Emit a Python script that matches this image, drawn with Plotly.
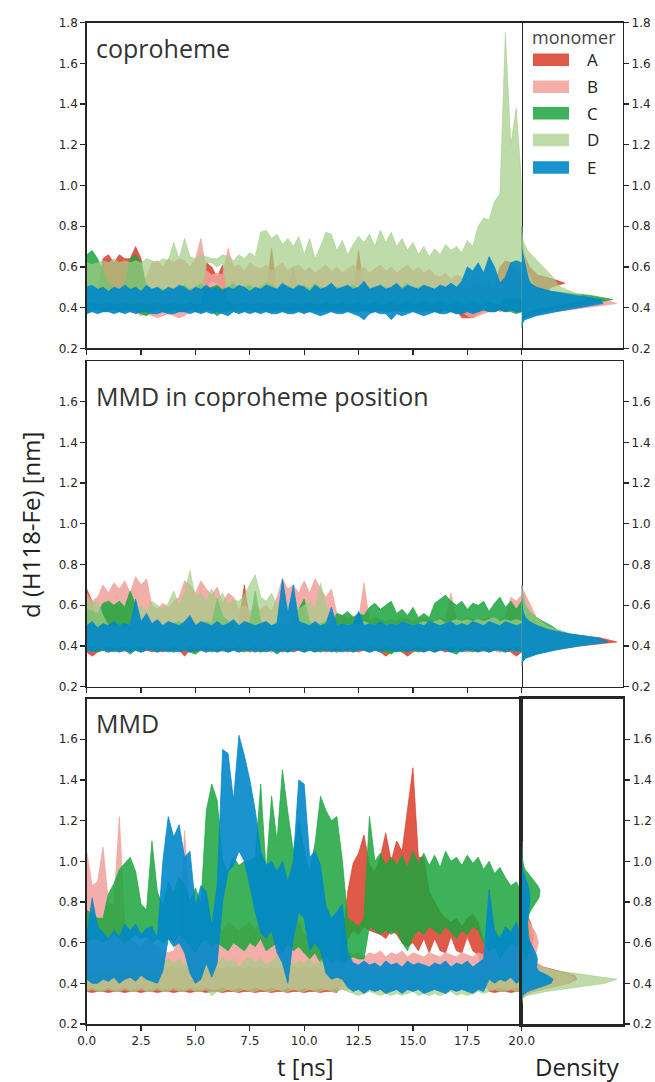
import plotly.graph_objects as go

# ---------------- data ----------------
T = [i * 0.25 for i in range(81)]          # time samples [ns]
MONOMERS = ["A", "B", "C", "D", "E"]
PANEL_TITLES = ["coproheme", "MMD in coproheme position", "MMD"]
X_TICKS = [0, 2.5, 5, 7.5, 10, 12.5, 15, 17.5, 20]
Y_TICKS_TOP = [0.2, 0.4, 0.6, 0.8, 1.0, 1.2, 1.4, 1.6, 1.8]
Y_TICKS = [0.2, 0.4, 0.6, 0.8, 1.0, 1.2, 1.4, 1.6]

# ---- panel 1: coproheme (upper / lower envelope of each trace) ----
P1_A_hi = [0.47,0.47,0.47,0.64,0.66,0.62,0.66,0.64, 0.64,0.70,0.64,0.47,0.47,0.47,0.47,0.47,
           0.47,0.47,0.47,0.47,0.47,0.47,0.62,0.60, 0.55,0.61,0.47,0.47,0.47,0.47,0.47,0.47,
           0.47,0.47,0.69,0.47,0.47,0.47,0.60,0.47, 0.47,0.47,0.47,0.47,0.47,0.47,0.47,0.47,
           0.47,0.47,0.68,0.47,0.47,0.47,0.47,0.47, 0.47,0.47,0.47,0.47,0.47,0.47,0.47,0.47,
           0.47,0.47,0.47,0.47,0.47,0.47,0.47,0.47, 0.47,0.47,0.47,0.50,0.60,0.63,0.62,0.58, 0.56]
P1_A_lo = [0.39,0.39,0.38,0.39,0.39,0.38,0.39,0.39, 0.38,0.39,0.39,0.38,0.39,0.39,0.38,0.39,
           0.39,0.38,0.39,0.39,0.38,0.39,0.50,0.53, 0.52,0.50,0.39,0.38,0.39,0.39,0.38,0.39,
           0.39,0.38,0.39,0.39,0.38,0.39,0.39,0.38, 0.39,0.39,0.38,0.39,0.39,0.38,0.39,0.39,
           0.38,0.39,0.39,0.38,0.39,0.39,0.38,0.39, 0.39,0.38,0.39,0.39,0.38,0.39,0.39,0.38,
           0.39,0.38,0.39,0.38,0.39,0.35,0.35,0.35, 0.37,0.38,0.39,0.38,0.39,0.38,0.39,0.38, 0.39]
P1_B_hi = [0.47,0.48,0.47,0.48,0.47,0.48,0.47,0.48, 0.48,0.47,0.50,0.55,0.62,0.63,0.60,0.64,
           0.62,0.64,0.63,0.60,0.64,0.74,0.58,0.56, 0.57,0.56,0.69,0.60,0.61,0.58,0.62,0.60,
           0.59,0.61,0.58,0.60,0.62,0.58,0.60,0.61, 0.58,0.60,0.57,0.59,0.61,0.58,0.60,0.57,
           0.59,0.61,0.58,0.60,0.57,0.59,0.61,0.58, 0.60,0.57,0.59,0.61,0.58,0.60,0.57,0.59,
           0.56,0.55,0.57,0.54,0.56,0.55,0.53,0.55, 0.54,0.52,0.53,0.51,0.52,0.50,0.52,0.51, 0.50]
P1_B_lo = [0.38,0.39,0.38,0.38,0.39,0.38,0.38,0.39, 0.38,0.38,0.36,0.37,0.36,0.35,0.36,0.37,
           0.36,0.35,0.36,0.38,0.39,0.38,0.38,0.39, 0.38,0.38,0.39,0.38,0.38,0.39,0.38,0.38,
           0.39,0.38,0.38,0.39,0.38,0.38,0.39,0.38, 0.38,0.39,0.38,0.38,0.39,0.38,0.38,0.39,
           0.38,0.38,0.39,0.38,0.38,0.39,0.38,0.38, 0.39,0.38,0.38,0.39,0.38,0.38,0.39,0.38,
           0.38,0.39,0.38,0.38,0.39,0.38,0.36,0.35, 0.36,0.37,0.38,0.39,0.38,0.38,0.39,0.38, 0.38]
P1_C_hi = [0.66,0.68,0.64,0.58,0.52,0.50,0.49,0.50, 0.64,0.66,0.62,0.50,0.49,0.50,0.49,0.48,
           0.49,0.50,0.51,0.49,0.50,0.52,0.49,0.50, 0.51,0.49,0.50,0.52,0.49,0.50,0.51,0.49,
           0.50,0.52,0.51,0.49,0.50,0.51,0.49,0.50, 0.51,0.49,0.52,0.50,0.49,0.51,0.50,0.49,
           0.50,0.51,0.49,0.52,0.50,0.49,0.51,0.50, 0.49,0.51,0.50,0.52,0.49,0.50,0.51,0.50,
           0.49,0.51,0.50,0.52,0.50,0.51,0.49,0.50, 0.52,0.50,0.51,0.49,0.50,0.52,0.50,0.51, 0.50]
P1_C_lo = [0.38,0.38,0.39,0.38,0.38,0.39,0.38,0.38, 0.39,0.38,0.37,0.36,0.38,0.39,0.38,0.38,
           0.39,0.38,0.38,0.39,0.38,0.38,0.39,0.38, 0.36,0.38,0.38,0.39,0.38,0.38,0.39,0.38,
           0.38,0.39,0.38,0.38,0.39,0.38,0.38,0.39, 0.38,0.38,0.39,0.38,0.38,0.39,0.38,0.38,
           0.39,0.38,0.38,0.39,0.38,0.38,0.39,0.38, 0.38,0.39,0.38,0.38,0.39,0.38,0.38,0.39,
           0.38,0.38,0.39,0.38,0.37,0.38,0.39,0.38, 0.38,0.39,0.38,0.38,0.39,0.38,0.38,0.37, 0.38]
P1_D_hi = [0.62,0.61,0.62,0.63,0.62,0.64,0.62,0.63, 0.62,0.63,0.62,0.64,0.63,0.62,0.64,0.63,
           0.72,0.64,0.74,0.65,0.64,0.66,0.65,0.64, 0.64,0.66,0.65,0.63,0.66,0.64,0.67,0.65,
           0.77,0.78,0.74,0.76,0.71,0.74,0.70,0.75, 0.66,0.74,0.64,0.70,0.77,0.76,0.68,0.73,
           0.66,0.71,0.75,0.72,0.76,0.70,0.78,0.72, 0.77,0.70,0.74,0.68,0.72,0.66,0.70,0.65,
           0.69,0.66,0.71,0.68,0.70,0.67,0.73,0.70, 0.80,0.84,0.83,0.92,0.96,1.75,1.20,1.38, 1.00]
P1_D_lo = [0.42,0.43,0.42,0.42,0.43,0.42,0.42,0.43, 0.42,0.42,0.43,0.42,0.42,0.43,0.42,0.42,
           0.43,0.42,0.42,0.43,0.42,0.42,0.62,0.62, 0.60,0.62,0.43,0.42,0.42,0.43,0.42,0.42,
           0.43,0.42,0.42,0.43,0.42,0.42,0.43,0.42, 0.42,0.43,0.42,0.42,0.43,0.42,0.42,0.43,
           0.42,0.42,0.43,0.42,0.42,0.43,0.42,0.42, 0.43,0.42,0.42,0.43,0.42,0.42,0.43,0.42,
           0.42,0.43,0.42,0.42,0.43,0.42,0.42,0.43, 0.42,0.42,0.43,0.42,0.42,0.45,0.44,0.45, 0.44]
P1_E_hi = [0.50,0.51,0.49,0.50,0.48,0.50,0.49,0.51, 0.49,0.50,0.48,0.51,0.49,0.50,0.48,0.50,
           0.49,0.51,0.50,0.48,0.50,0.49,0.51,0.49, 0.50,0.48,0.50,0.49,0.51,0.50,0.48,0.50,
           0.49,0.51,0.50,0.49,0.52,0.50,0.49,0.51, 0.50,0.48,0.51,0.49,0.50,0.52,0.49,0.50,
           0.51,0.49,0.50,0.53,0.49,0.50,0.51,0.49, 0.50,0.52,0.49,0.51,0.50,0.49,0.51,0.50,
           0.49,0.51,0.50,0.52,0.50,0.53,0.60,0.58, 0.62,0.57,0.65,0.60,0.52,0.55,0.62,0.63, 0.62]
P1_E_lo = [0.37,0.38,0.37,0.38,0.38,0.37,0.38,0.37, 0.38,0.37,0.38,0.38,0.37,0.37,0.38,0.37,
           0.37,0.38,0.38,0.37,0.38,0.37,0.38,0.37, 0.38,0.37,0.36,0.38,0.37,0.38,0.37,0.38,
           0.37,0.38,0.37,0.37,0.38,0.37,0.37,0.38, 0.37,0.38,0.37,0.36,0.37,0.38,0.37,0.37,
           0.38,0.37,0.36,0.34,0.37,0.38,0.37,0.37, 0.34,0.37,0.36,0.37,0.38,0.37,0.36,0.37,
           0.38,0.37,0.37,0.38,0.37,0.37,0.38,0.37, 0.38,0.39,0.38,0.38,0.39,0.38,0.39,0.38, 0.38]

# ---- panel 2: MMD in coproheme position ----
P2_A_hi = [0.68,0.62,0.48,0.47,0.48,0.47,0.48,0.47, 0.48,0.47,0.48,0.47,0.48,0.47,0.48,0.47,
           0.48,0.47,0.48,0.47,0.48,0.47,0.48,0.47, 0.48,0.47,0.48,0.47,0.52,0.70,0.52,0.60,
           0.48,0.47,0.48,0.47,0.48,0.47,0.48,0.47, 0.48,0.47,0.48,0.47,0.48,0.47,0.48,0.47,
           0.48,0.47,0.48,0.47,0.48,0.47,0.48,0.47, 0.48,0.47,0.48,0.47,0.48,0.47,0.48,0.47,
           0.48,0.47,0.48,0.47,0.48,0.47,0.48,0.47, 0.48,0.47,0.48,0.47,0.48,0.47,0.48,0.47, 0.48]
P2_A_lo = [0.37,0.35,0.37,0.38,0.37,0.38,0.37,0.38, 0.37,0.38,0.37,0.38,0.37,0.38,0.37,0.38,
           0.37,0.38,0.35,0.38,0.37,0.38,0.37,0.38, 0.37,0.38,0.37,0.38,0.37,0.38,0.37,0.38,
           0.37,0.38,0.37,0.38,0.37,0.38,0.37,0.38, 0.37,0.38,0.37,0.38,0.37,0.38,0.37,0.38,
           0.37,0.38,0.37,0.38,0.37,0.38,0.37,0.35, 0.37,0.38,0.37,0.35,0.37,0.38,0.37,0.38,
           0.37,0.38,0.37,0.38,0.37,0.38,0.37,0.38, 0.37,0.38,0.37,0.38,0.37,0.38,0.37,0.35, 0.37]
P2_B_hi = [0.66,0.62,0.64,0.70,0.66,0.71,0.68,0.72, 0.66,0.74,0.70,0.73,0.60,0.58,0.61,0.59,
           0.62,0.64,0.72,0.70,0.66,0.72,0.68,0.65, 0.69,0.61,0.66,0.64,0.58,0.60,0.57,0.59,
           0.58,0.60,0.57,0.64,0.73,0.68,0.70,0.66, 0.72,0.66,0.73,0.68,0.64,0.68,0.56,0.55,
           0.54,0.55,0.53,0.71,0.52,0.54,0.53,0.52, 0.53,0.52,0.54,0.53,0.52,0.53,0.54,0.53,
           0.52,0.54,0.53,0.66,0.53,0.52,0.54,0.53, 0.52,0.53,0.54,0.52,0.53,0.54,0.64,0.62, 0.65]
P2_B_lo = [0.38,0.37,0.38,0.38,0.37,0.38,0.38,0.37, 0.38,0.38,0.37,0.38,0.38,0.37,0.38,0.38,
           0.37,0.38,0.38,0.37,0.38,0.38,0.37,0.38, 0.38,0.37,0.38,0.38,0.37,0.38,0.38,0.37,
           0.38,0.38,0.37,0.38,0.38,0.37,0.38,0.38, 0.37,0.38,0.38,0.37,0.38,0.38,0.37,0.38,
           0.38,0.37,0.38,0.38,0.37,0.38,0.38,0.37, 0.38,0.38,0.37,0.38,0.38,0.37,0.38,0.38,
           0.37,0.38,0.38,0.37,0.38,0.38,0.37,0.38, 0.38,0.37,0.38,0.38,0.37,0.38,0.38,0.37, 0.38]
P2_C_hi = [0.58,0.57,0.56,0.61,0.62,0.60,0.62,0.59, 0.67,0.60,0.52,0.51,0.50,0.51,0.50,0.52,
           0.51,0.52,0.50,0.52,0.51,0.50,0.52,0.51, 0.63,0.55,0.52,0.51,0.50,0.52,0.51,0.67,
           0.52,0.51,0.50,0.52,0.51,0.50,0.52,0.58, 0.63,0.52,0.50,0.51,0.52,0.50,0.56,0.55,
           0.57,0.54,0.56,0.55,0.59,0.61,0.58,0.60, 0.62,0.56,0.58,0.55,0.59,0.54,0.56,0.54,
           0.61,0.63,0.65,0.62,0.60,0.62,0.58,0.61, 0.60,0.62,0.57,0.61,0.64,0.59,0.62,0.58, 0.62]
P2_C_lo = [0.38,0.38,0.37,0.38,0.38,0.37,0.38,0.38, 0.36,0.38,0.37,0.38,0.38,0.37,0.38,0.38,
           0.37,0.38,0.38,0.37,0.36,0.38,0.38,0.37, 0.38,0.38,0.37,0.38,0.38,0.37,0.38,0.38,
           0.37,0.38,0.38,0.36,0.38,0.37,0.38,0.38, 0.37,0.38,0.38,0.37,0.38,0.38,0.37,0.38,
           0.38,0.37,0.38,0.38,0.37,0.38,0.38,0.37, 0.36,0.38,0.37,0.38,0.38,0.37,0.38,0.38,
           0.37,0.38,0.38,0.37,0.36,0.38,0.38,0.37, 0.38,0.38,0.37,0.38,0.38,0.37,0.38,0.38, 0.37]
P2_D_hi = [0.64,0.61,0.62,0.55,0.50,0.49,0.50,0.49, 0.50,0.58,0.60,0.57,0.62,0.60,0.58,0.61,
           0.67,0.60,0.66,0.77,0.64,0.66,0.62,0.68, 0.62,0.66,0.60,0.63,0.62,0.65,0.70,0.75,
           0.64,0.62,0.66,0.60,0.63,0.60,0.62,0.58, 0.60,0.62,0.58,0.71,0.60,0.52,0.50,0.51,
           0.50,0.51,0.50,0.52,0.51,0.50,0.51,0.50, 0.51,0.50,0.52,0.51,0.50,0.51,0.52,0.51,
           0.52,0.53,0.51,0.52,0.53,0.52,0.53,0.52, 0.53,0.52,0.53,0.54,0.52,0.53,0.52,0.53, 0.52]
P2_D_lo = [0.39,0.40,0.39,0.39,0.40,0.39,0.39,0.40, 0.39,0.39,0.40,0.39,0.39,0.40,0.39,0.39,
           0.40,0.39,0.39,0.40,0.39,0.39,0.40,0.39, 0.39,0.40,0.39,0.39,0.40,0.39,0.39,0.40,
           0.39,0.39,0.40,0.39,0.39,0.40,0.39,0.39, 0.40,0.39,0.39,0.40,0.39,0.39,0.40,0.39,
           0.39,0.40,0.39,0.39,0.40,0.39,0.39,0.40, 0.39,0.39,0.40,0.39,0.39,0.40,0.39,0.39,
           0.40,0.39,0.39,0.40,0.39,0.39,0.40,0.39, 0.39,0.40,0.39,0.39,0.40,0.39,0.39,0.40, 0.39]
P2_E_hi = [0.50,0.52,0.49,0.51,0.50,0.52,0.50,0.51, 0.50,0.63,0.52,0.56,0.51,0.53,0.50,0.52,
           0.51,0.50,0.52,0.55,0.50,0.52,0.51,0.50, 0.52,0.50,0.51,0.53,0.50,0.52,0.51,0.50,
           0.51,0.52,0.50,0.51,0.73,0.56,0.70,0.52, 0.51,0.50,0.52,0.50,0.51,0.59,0.50,0.51,
           0.50,0.51,0.57,0.50,0.51,0.50,0.52,0.50, 0.51,0.50,0.52,0.51,0.50,0.51,0.50,0.52,
           0.51,0.50,0.51,0.52,0.50,0.51,0.50,0.52, 0.51,0.50,0.52,0.51,0.50,0.52,0.51,0.50, 0.51]
P2_E_lo = [0.38,0.37,0.38,0.38,0.37,0.38,0.37,0.38, 0.37,0.38,0.37,0.38,0.38,0.37,0.38,0.37,
           0.38,0.37,0.38,0.37,0.38,0.38,0.37,0.38, 0.37,0.38,0.37,0.38,0.37,0.38,0.38,0.37,
           0.38,0.37,0.38,0.37,0.38,0.37,0.38,0.38, 0.37,0.38,0.37,0.38,0.38,0.37,0.38,0.37,
           0.38,0.37,0.38,0.38,0.37,0.38,0.37,0.38, 0.38,0.37,0.38,0.37,0.38,0.38,0.37,0.38,
           0.37,0.38,0.38,0.37,0.38,0.37,0.38,0.38, 0.37,0.38,0.37,0.38,0.38,0.37,0.38,0.37, 0.38]

# ---- panel 3: MMD ----
P3_A_hi = [0.44,0.45,0.44,0.45,0.44,0.45,0.44,0.45, 0.45,0.44,0.45,0.44,0.45,0.46,0.47,0.48,
           0.48,0.47,0.48,0.47,0.48,0.47,0.48,0.47, 0.48,0.47,0.48,0.47,0.48,0.47,0.48,0.47,
           0.48,0.47,0.48,0.47,0.48,0.47,0.48,0.47, 0.48,0.47,0.48,0.47,0.48,0.47,0.48,0.60,
           0.85,0.99,1.04,1.13,0.98,0.95,1.02,1.14, 1.00,1.10,1.05,1.27,1.46,1.02,1.02,0.85,
           0.80,0.75,0.72,0.70,0.72,0.68,0.72,0.74, 0.70,0.60,0.45,0.44,0.45,0.44,0.45,0.44, 0.45]
P3_A_lo = [0.36,0.355,0.36,0.36,0.355,0.36,0.36,0.355, 0.36,0.36,0.355,0.36,0.36,0.355,0.36,0.36,
           0.355,0.36,0.36,0.355,0.36,0.36,0.355,0.36, 0.36,0.355,0.36,0.36,0.355,0.36,0.36,0.355,
           0.36,0.36,0.355,0.36,0.36,0.355,0.36,0.36, 0.355,0.36,0.36,0.355,0.36,0.36,0.355,0.40,
           0.62,0.66,0.64,0.68,0.66,0.65,0.64,0.62, 0.66,0.64,0.60,0.58,0.60,0.56,0.62,0.55,
           0.62,0.56,0.55,0.63,0.56,0.55,0.63,0.56, 0.54,0.45,0.36,0.355,0.36,0.36,0.355,0.36, 0.36]
P3_B_hi = [1.05,0.88,0.90,1.07,0.80,0.78,1.22,0.70, 0.62,0.60,0.58,0.62,0.60,0.58,0.56,0.55,
           0.56,0.62,1.15,0.72,0.65,0.70,0.68,0.65, 0.68,0.66,0.70,0.68,0.66,0.68,0.70,0.66,
           0.72,0.68,0.74,0.70,0.68,0.72,0.66,0.70, 0.64,0.62,0.60,0.62,0.60,0.58,0.60,0.56,
           0.56,0.54,0.55,0.53,0.55,0.54,0.56,0.53, 0.55,0.54,0.56,0.53,0.55,0.54,0.53,0.55,
           0.54,0.53,0.55,0.54,0.53,0.55,0.54,0.53, 0.55,0.54,0.62,0.60,0.64,0.60,0.62,0.58, 0.60]
P3_B_lo = [0.37,0.38,0.37,0.37,0.38,0.37,0.37,0.38, 0.37,0.37,0.38,0.37,0.37,0.38,0.37,0.37,
           0.38,0.37,0.37,0.38,0.37,0.37,0.38,0.37, 0.37,0.38,0.37,0.37,0.38,0.37,0.37,0.38,
           0.37,0.37,0.38,0.37,0.37,0.38,0.37,0.37, 0.38,0.37,0.37,0.38,0.37,0.37,0.38,0.37,
           0.37,0.38,0.37,0.37,0.38,0.37,0.37,0.38, 0.37,0.37,0.38,0.37,0.37,0.38,0.37,0.37,
           0.38,0.37,0.37,0.38,0.37,0.37,0.38,0.37, 0.37,0.38,0.37,0.37,0.38,0.37,0.37,0.38, 0.37]
P3_C_hi = [0.76,0.74,0.72,0.72,0.84,0.89,0.96,0.99, 1.02,0.95,0.79,0.76,1.10,0.85,0.78,0.90,
           0.85,0.92,0.88,0.80,0.87,0.79,1.25,1.38, 1.30,1.00,0.95,1.02,0.98,1.00,1.00,1.02,
           1.38,0.95,1.32,1.10,1.45,1.24,1.05,1.20, 1.05,0.95,1.09,1.32,1.25,1.20,1.22,1.01,
           0.72,0.70,0.68,0.72,1.22,1.00,1.04,0.98, 1.02,0.98,1.03,0.97,1.05,0.99,1.04,0.98,
           1.03,0.97,1.05,1.00,1.02,0.98,1.03,0.99, 1.02,0.96,1.00,0.94,0.97,0.92,0.88,0.90, 0.85]
P3_C_lo = [0.60,0.62,0.62,0.60,0.62,0.64,0.62,0.60, 0.62,0.64,0.62,0.63,0.60,0.62,0.60,0.62,
           0.60,0.64,0.62,0.58,0.55,0.60,0.62,0.58, 0.60,0.58,0.56,0.60,0.58,0.56,0.60,0.58,
           0.62,0.56,0.58,0.60,0.55,0.60,0.56,0.58, 0.55,0.52,0.55,0.50,0.52,0.50,0.52,0.50,
           0.52,0.53,0.52,0.52,0.68,0.66,0.64,0.66, 0.64,0.66,0.60,0.56,0.63,0.66,0.64,0.68,
           0.66,0.64,0.68,0.65,0.62,0.66,0.64,0.68, 0.66,0.60,0.56,0.58,0.52,0.56,0.60,0.58, 0.60]
P3_D_hi = [0.42,0.43,0.42,0.44,0.43,0.42,0.44,0.43, 0.42,0.44,0.43,0.42,0.44,0.43,0.50,0.52,
           0.50,0.52,0.49,0.53,0.51,0.48,0.52,0.50, 0.49,0.53,0.50,0.52,0.48,0.51,0.53,0.50,
           0.52,0.49,0.51,0.53,0.50,0.52,0.49,0.51, 0.50,0.52,0.49,0.51,0.53,0.50,0.52,0.51,
           0.47,0.46,0.47,0.46,0.47,0.46,0.47,0.46, 0.47,0.46,0.47,0.46,0.47,0.46,0.47,0.46,
           0.47,0.46,0.47,0.46,0.47,0.46,0.47,0.46, 0.47,0.46,0.45,0.47,0.46,0.48,0.46,0.47, 0.46]
P3_D_lo = [0.36,0.37,0.36,0.36,0.37,0.36,0.36,0.37, 0.36,0.36,0.37,0.36,0.36,0.37,0.36,0.36,
           0.37,0.36,0.36,0.37,0.36,0.36,0.37,0.34, 0.36,0.36,0.37,0.36,0.36,0.37,0.36,0.36,
           0.37,0.36,0.36,0.37,0.36,0.36,0.37,0.36, 0.36,0.37,0.36,0.36,0.37,0.36,0.36,0.37,
           0.36,0.35,0.34,0.35,0.36,0.35,0.34,0.35, 0.34,0.35,0.34,0.35,0.36,0.34,0.35,0.34,
           0.35,0.34,0.35,0.36,0.34,0.35,0.34,0.35, 0.36,0.35,0.36,0.37,0.36,0.36,0.37,0.36, 0.36]
P3_E_hi = [0.63,0.82,0.68,0.65,0.62,0.66,0.63,0.69, 0.66,0.69,0.64,0.67,0.68,0.62,1.00,1.22,
           1.12,1.18,1.02,1.05,0.78,0.88,0.85,0.68, 0.88,1.55,1.53,1.30,1.62,1.52,1.40,1.25,
           1.05,0.98,1.00,0.95,1.00,0.90,1.00,1.40, 1.38,1.02,1.05,0.98,0.78,0.72,0.75,0.79,
           0.55,0.50,0.49,0.51,0.49,0.50,0.48,0.51, 0.49,0.50,0.48,0.51,0.49,0.50,0.49,0.48,
           0.50,0.49,0.51,0.48,0.50,0.49,0.51,0.48, 0.50,0.52,0.86,0.66,0.62,0.68,0.65,0.70, 0.62]
P3_E_lo = [0.42,0.40,0.40,0.42,0.41,0.43,0.40,0.42, 0.43,0.41,0.44,0.42,0.41,0.40,0.46,0.62,
           0.58,0.60,0.55,0.45,0.40,0.42,0.50,0.43, 0.50,0.80,0.95,0.98,1.05,1.00,0.88,0.75,
           0.65,0.62,0.66,0.55,0.50,0.40,0.62,0.75, 0.72,0.56,0.60,0.56,0.45,0.42,0.43,0.42,
           0.38,0.36,0.37,0.35,0.37,0.36,0.37,0.35, 0.36,0.37,0.35,0.37,0.36,0.37,0.35,0.36,
           0.37,0.36,0.35,0.37,0.36,0.37,0.36,0.35, 0.37,0.36,0.42,0.40,0.42,0.41,0.43,0.40, 0.42]

# ---- marginal densities (distance grid, density per monomer) ----
Y1 = [round(0.30 + 0.02 * i, 2) for i in range(26)]
P1_DENS_A = [0,0,0.1,0.6,2.5,5.5,7.8,7.0,4.0,2.6,3.0,4.4,3.2,1.6,1.2,0.8,0.6,0.4,0.25,0.15,0.1,0.05,0,0,0,0]
P1_DENS_B = [0,0,0.2,1.0,3.5,6.8,9.7,8.5,5.0,2.5,1.5,1.2,1.0,0.8,0.6,0.5,0.4,0.3,0.2,0.15,0.1,0.05,0,0,0,0]
P1_DENS_C = [0,0,0.1,0.6,2.0,4.5,6.8,9.3,7.0,3.0,1.5,0.8,0.5,0.4,0.3,0.25,0.2,0.15,0.1,0.05,0,0,0,0,0,0]
P1_DENS_D = [0,0,0,0.1,0.6,2.0,4.5,6.5,6.0,5.0,4.0,3.6,3.3,3.0,2.6,2.2,1.8,1.3,0.9,0.6,0.4,0.2,0.1,0.05,0.03,0.02]
P1_DENS_E = [0,0.05,0.3,1.5,3.5,6.0,8.3,8.0,5.5,3.0,1.5,0.9,0.7,0.6,0.5,0.4,0.3,0.2,0.1,0.05,0,0,0,0,0,0]

Y2 = [round(0.30 + 0.02 * i, 2) for i in range(21)]
P2_DENS_A = [0,0,0.2,1.0,3.0,6.0,9.7,8.0,4.5,2.5,1.6,1.2,0.9,0.7,0.5,0.4,0.3,0.2,0.1,0.05,0]
P2_DENS_B = [0,0,0.2,0.9,2.8,5.6,8.5,7.5,4.5,2.8,2.0,1.7,1.5,1.3,1.1,0.9,0.7,0.5,0.3,0.1,0.02]
P2_DENS_C = [0,0.05,0.3,1.2,3.0,5.2,7.5,7.0,4.8,3.6,3.0,2.2,1.5,1.0,0.6,0.3,0.2,0.1,0.05,0,0]
P2_DENS_D = [0,0,0.2,1.0,2.8,5.5,8.3,7.4,5.0,3.5,2.6,2.0,1.5,1.0,0.7,0.5,0.3,0.15,0.05,0.02,0]
P2_DENS_E = [0,0.05,0.4,1.6,3.5,5.8,8.8,7.8,4.8,2.8,1.6,0.8,0.4,0.2,0.1,0.05,0,0,0,0,0]

Y3 = [round(0.30 + 0.02 * i, 2) for i in range(41)]
P3_DENS_A = [0,0,0.2,1.2,3.0,4.8,5.6,5.4,3.8,2.2,1.4,1.1,1.0,1.0,1.0,1.1,1.2,1.2,1.1,1.0,0.9,0.7,0.5,0.4,0.3,
             0.25,0.2,0.2,0.2,0.15,0.1,0.1,0.08,0.06,0.05,0.04,0.03,0.02,0.02,0.01,0]
P3_DENS_B = [0,0,0.2,1.1,2.8,4.6,5.4,5.0,3.4,2.2,1.6,1.4,1.4,1.5,1.6,1.7,1.6,1.5,1.3,1.0,0.8,0.6,0.4,0.3,0.25,
             0.2,0.2,0.15,0.15,0.12,0.1,0.08,0.06,0.05,0.04,0.03,0.02,0.02,0.01,0,0]
P3_DENS_C = [0,0,0,0.02,0.05,0.1,0.15,0.2,0.25,0.3,0.4,0.5,0.6,0.75,0.8,0.8,0.75,0.7,0.65,0.6,0.6,0.65,0.75,0.95,1.2,
             1.5,1.75,1.85,1.85,1.65,1.3,0.95,0.6,0.35,0.2,0.1,0.05,0.02,0.01,0,0]
P3_DENS_D = [0,0.05,0.5,2.5,5.5,8.5,9.7,7.0,3.8,1.8,0.8,0.3,0.1,0.05,0.02,0,0,0,0,0,0,0,0,0,0,
             0,0,0,0,0,0,0,0,0,0,0,0,0,0,0,0]
P3_DENS_E = [0,0,0.1,0.6,1.8,3.0,3.2,2.6,1.7,1.5,1.55,1.6,1.5,1.3,1.1,0.9,0.7,0.6,0.55,0.55,0.6,0.65,0.7,0.75,0.8,
             0.82,0.82,0.8,0.75,0.65,0.5,0.35,0.2,0.1,0.05,0.02,0,0,0,0,0]

# ---------------- styling ----------------
FILL = {
    "A": "rgba(219,61,42,0.85)",
    "B": "rgba(242,160,155,0.85)",
    "C": "rgba(27,164,61,0.85)",
    "D": "rgba(162,205,134,0.70)",
    "E": "rgba(1,135,202,0.90)",
}

panels = [
    dict(series={"A": (P1_A_hi, P1_A_lo), "B": (P1_B_hi, P1_B_lo), "C": (P1_C_hi, P1_C_lo),
                 "D": (P1_D_hi, P1_D_lo), "E": (P1_E_hi, P1_E_lo)},
         dy=Y1, dens={"A": P1_DENS_A, "B": P1_DENS_B, "C": P1_DENS_C, "D": P1_DENS_D, "E": P1_DENS_E}),
    dict(series={"A": (P2_A_hi, P2_A_lo), "B": (P2_B_hi, P2_B_lo), "C": (P2_C_hi, P2_C_lo),
                 "D": (P2_D_hi, P2_D_lo), "E": (P2_E_hi, P2_E_lo)},
         dy=Y2, dens={"A": P2_DENS_A, "B": P2_DENS_B, "C": P2_DENS_C, "D": P2_DENS_D, "E": P2_DENS_E}),
    dict(series={"A": (P3_A_hi, P3_A_lo), "B": (P3_B_hi, P3_B_lo), "C": (P3_C_hi, P3_C_lo),
                 "D": (P3_D_hi, P3_D_lo), "E": (P3_E_hi, P3_E_lo)},
         dy=Y3, dens={"A": P3_DENS_A, "B": P3_DENS_B, "C": P3_DENS_C, "D": P3_DENS_D, "E": P3_DENS_E}),
]

W, H = 655, 1082
def px(x):
    return x / W
def py(y):
    return 1 - y / H

XDOM_T = [px(86.7), px(521.7)]
XDOM_D = [px(521.7), px(622.7)]
YDOMS = [[py(348.3), py(22.7)], [py(686.7), py(361.0)], [py(1024.0), py(698.6)]]
TITLE_Y = [48, 396, 723]

AX_COLOR = "#262626"
TICKFONT = dict(family="DejaVu Sans", size=12, color=AX_COLOR)
LABFONT = "Open Sans"

fig = go.Figure()
layout = {}
for k, p in enumerate(panels):
    xt, yt = ("x", "y") if k == 0 else (f"x{2*k+1}", f"y{2*k+1}")
    xd, yd = f"x{2*k+2}", f"y{2*k+2}"
    for m in MONOMERS:
        hi, lo = p["series"][m]
        assert len(hi) == len(T) and len(lo) == len(T), (k, m)
        fig.add_trace(go.Scatter(
            x=T + T[::-1], y=hi + lo[::-1], mode="lines", fill="toself",
            fillcolor=FILL[m], line=dict(width=0.8, color=FILL[m]),
            hoverinfo="skip", showlegend=False, xaxis=xt, yaxis=yt))
    for m in MONOMERS:
        d = p["dens"][m]
        assert len(d) == len(p["dy"]), (k, m)
        fig.add_trace(go.Scatter(
            x=d, y=p["dy"], mode="lines", fill="tozerox",
            fillcolor=FILL[m], line=dict(width=0.8, color=FILL[m]),
            hoverinfo="skip", showlegend=False, xaxis=xd, yaxis=yd))

    lw_d = 2.6 if k == 2 else 1.5
    yticks = Y_TICKS_TOP if k == 0 else Y_TICKS
    key = lambda a: a.replace("x", "xaxis").replace("y", "yaxis")
    layout[key(xt)] = dict(domain=XDOM_T, anchor=yt, range=[0, 20], tickvals=X_TICKS, tickformat=".1f",
                           showticklabels=(k == 2), ticks="outside", ticklen=5, tickwidth=1.3,
                           tickcolor=AX_COLOR, showline=True, mirror=True, linecolor=AX_COLOR,
                           linewidth=1.5, showgrid=False, zeroline=False, tickfont=TICKFONT,
                           automargin=False)
    layout[key(yt)] = dict(domain=YDOMS[k], anchor=xt, range=[0.2, 1.8], tickvals=yticks, tickformat=".1f",
                           ticks="outside", ticklen=5, tickwidth=1.3, tickcolor=AX_COLOR,
                           showline=True, mirror=True, linecolor=AX_COLOR, linewidth=1.5,
                           showgrid=False, zeroline=False, tickfont=TICKFONT, automargin=False)
    layout[key(xd)] = dict(domain=XDOM_D, anchor=yd, range=[0, 10.3], showticklabels=False, ticks="",
                           showline=True, mirror=True, linecolor=AX_COLOR, linewidth=lw_d,
                           showgrid=False, zeroline=False, automargin=False)
    layout[key(yd)] = dict(domain=YDOMS[k], anchor=xd, side="right", range=[0.2, 1.8], tickvals=yticks,
                           tickformat=".1f", ticks="outside", ticklen=5, tickwidth=1.3, tickcolor=AX_COLOR,
                           showline=True, mirror=(k == 2), linecolor=AX_COLOR, linewidth=lw_d,
                           showgrid=False, zeroline=False, tickfont=TICKFONT, automargin=False)

annotations = []
for k, title in enumerate(PANEL_TITLES):
    annotations.append(dict(text=title, x=px(94), y=py(TITLE_Y[k]), xref="paper", yref="paper",
                            xanchor="left", yanchor="middle", showarrow=False,
                            font=dict(family=LABFONT, size=25, color="#333333")))
annotations.append(dict(text="d (H118-Fe) [nm]", x=px(30), y=py(525), xref="paper", yref="paper",
                        textangle=-90, showarrow=False, xanchor="center", yanchor="middle",
                        font=dict(family=LABFONT, size=24, color="#222222")))
annotations.append(dict(text="t [ns]", x=px(305), y=py(1066), xref="paper", yref="paper",
                        showarrow=False, xanchor="center", yanchor="middle", borderpad=0,
                        font=dict(family=LABFONT, size=24, color="#222222")))
annotations.append(dict(text="Density", x=px(577), y=py(1066), xref="paper", yref="paper",
                        showarrow=False, xanchor="center", yanchor="middle", borderpad=0,
                        font=dict(family=LABFONT, size=24, color="#222222")))
annotations.append(dict(text="monomer", x=px(574), y=py(37), xref="paper", yref="paper",
                        showarrow=False, xanchor="center", yanchor="middle",
                        font=dict(family=LABFONT, size=18, color="#444444")))

shapes = []
LEG_ROWS = [59.7, 86.7, 113.3, 140.0, 167.5]
for m, ry in zip(MONOMERS, LEG_ROWS):
    shapes.append(dict(type="rect", xref="paper", yref="paper", x0=px(533), x1=px(569),
                       y0=py(ry + 6.3), y1=py(ry - 6.3), fillcolor=FILL[m], line=dict(width=0)))
    annotations.append(dict(text=m, x=px(585), y=py(ry), xref="paper", yref="paper",
                            showarrow=False, xanchor="left", yanchor="middle",
                            font=dict(family=LABFONT, size=17, color="#222222")))

fig.update_layout(width=W, height=H, margin=dict(l=0, r=0, t=0, b=0, autoexpand=False),
                  paper_bgcolor="white", plot_bgcolor="white", showlegend=False,
                  annotations=annotations, shapes=shapes, **layout)
# remove the default 8px page margin so the 655x1082 figure fills the window exactly
fig.write_html("out.html", config={"displayModeBar": False, "staticPlot": True},
               post_script="document.body.style.margin='0';document.body.style.overflow='hidden';")
